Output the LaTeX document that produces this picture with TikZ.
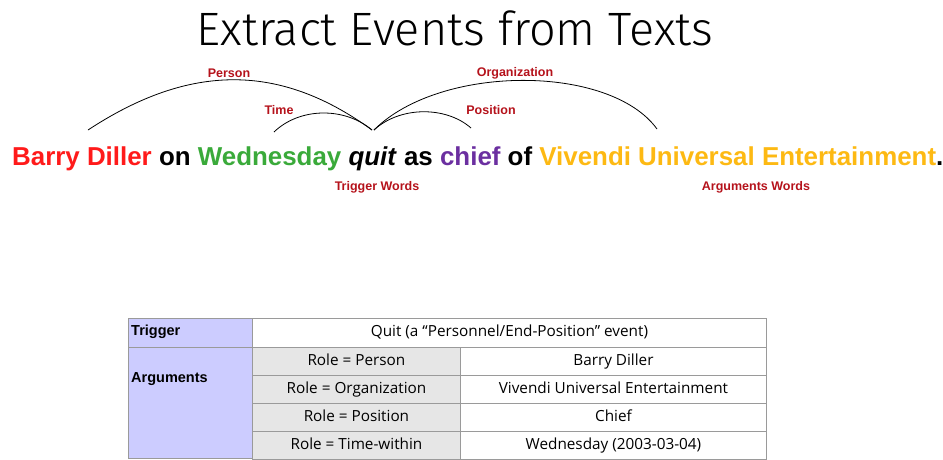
\documentclass[tikz,border=0pt]{standalone}
\usepackage{fontspec}
\setmainfont{Liberation Sans}
\newfontfamily\titlefont{Fira Sans Light}
\newfontfamily\tablefont{Open Sans}
\definecolor{cRed}{HTML}{FF1A1A}
\definecolor{cGreen}{HTML}{3AAA3A}
\definecolor{cPurple}{HTML}{6B2FA0}
\definecolor{cOrange}{HTML}{FDB913}
\definecolor{lblRed}{HTML}{B5121B}
\definecolor{lav}{HTML}{CCCCFF}
\definecolor{cellGray}{HTML}{E6E6E6}
\definecolor{gridGray}{HTML}{9A9A9A}
\tikzset{
  arcline/.style={draw=black, line width=0.8pt},
  arclabel/.style={text=lblRed, font=\bfseries\fontsize{12.5}{14}\selectfont, inner sep=0},
  cell/.style={draw=gridGray, line width=0.9pt, anchor=north west, inner sep=0, minimum height=28pt},
  tabtxt/.style={font=\tablefont\fontsize{15.3}{18}\selectfont, inner sep=0, text height=11pt, text depth=3pt},
  headtxt/.style={font=\bfseries\fontsize{14.5}{17}\selectfont, inner sep=0, anchor=west}
}
\begin{document}
\begin{tikzpicture}[x=1pt,y=-1pt]
\useasboundingbox (0,0) rectangle (943,459);
\node[font=\titlefont\fontsize{46.8}{52}\selectfont, inner sep=0] (title) at (455,28) {Extract Events from Texts};
\node[anchor=base west, inner sep=0, font=\bfseries\fontsize{25.9}{30}\selectfont] (sent) at (12,165)
 {\textcolor{cRed}{Barry Diller} on \textcolor{cGreen}{Wednesday} \textit{quit} as \textcolor{cPurple}{chief} of \textcolor{cOrange}{Vivendi Universal Entertainment}.};
% arc end points
\coordinate (trigA) at (372,130);
\coordinate (trigB) at (374,130);
\coordinate (perE) at (88,130);
\coordinate (timE) at (274,132);
\coordinate (orgE) at (657,129);
\coordinate (posE) at (471,128);
\draw[arcline] (perE) .. controls (190,63) and (280,63) .. (trigA);
\draw[arcline] (timE) .. controls (300,107) and (345,107) .. (trigA);
\draw[arcline] (trigB) .. controls (440,64) and (610,64) .. (orgE);
\draw[arcline] (trigB) .. controls (400,106) and (446,106) .. (posE);
\node[arclabel] (lper) at (229,73) {Person};
\node[arclabel] (ltim) at (279,110) {Time};
\node[arclabel] (lorg) at (515,73) {Organization};
\node[arclabel] (lpos) at (491,110) {Position};
\node[arclabel] (ltw) at (377,187) {Trigger Words};
\node[arclabel] (law) at (756,187) {Arguments Words};
% table
\node[cell, fill=lav, minimum width=124pt, minimum height=29pt] (trigH) at (128,318) {};
\node[cell, fill=white, minimum width=514pt, minimum height=29pt] (trigV) at (252,318) {};
\node[cell, fill=lav, minimum width=124pt, minimum height=111pt] (argH) at (128,347) {};
\node[cell, fill=cellGray, minimum width=208pt] (r1) at (252,347) {};
\node[cell, fill=cellGray, minimum width=208pt] (r2) at (252,375) {};
\node[cell, fill=cellGray, minimum width=208pt] (r3) at (252,403) {};
\node[cell, fill=cellGray, minimum width=208pt] (r4) at (252,431) {};
\node[cell, fill=white, minimum width=306pt] (v1) at (460,347) {};
\node[cell, fill=white, minimum width=306pt] (v2) at (460,375) {};
\node[cell, fill=white, minimum width=306pt] (v3) at (460,403) {};
\node[cell, fill=white, minimum width=306pt] (v4) at (460,431) {};
\node[headtxt] (tTrig) at (131,332) {Trigger};
\node[headtxt] (tArg) at (131,379) {Arguments};
\node[tabtxt] at (trigV.center) {Quit (a “Personnel/End-Position” event)};
\node[tabtxt] at (r1.center) {Role = Person};
\node[tabtxt] at (r2.center) {Role = Organization};
\node[tabtxt] at (r3.center) {Role = Position};
\node[tabtxt] at (r4.center) {Role = Time-within};
\node[tabtxt] at (v1.center) {Barry Diller};
\node[tabtxt] at (v2.center) {Vivendi Universal Entertainment};
\node[tabtxt] at (v3.center) {Chief};
\node[tabtxt] at (v4.center) {Wednesday (2003-03-04)};
\end{tikzpicture}
\end{document}
